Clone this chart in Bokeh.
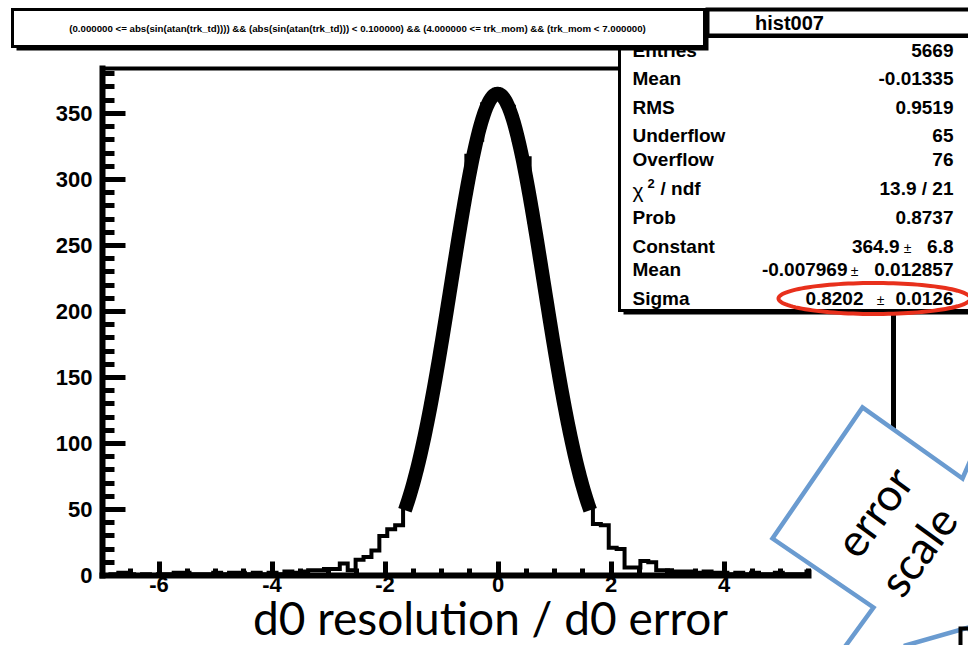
import numpy as np
from bokeh.plotting import figure
from bokeh.models import LinearAxis, FixedTicker, Label, PolyAnnotation, Range1d
from bokeh.embed import file_html
from bokeh.resources import INLINE

# ---------------- data ----------------
bin_low = -7.0
bin_high = 7.0
bin_count = 100
counts = [0, 1, 2, 1, 0, 1, 0, 1, 1, 2,
          2, 1, 1, 1, 2, 1, 2, 2, 1, 2,
          1, 2, 1, 3, 2, 3, 4, 4, 5, 5,
          9, 4, 12, 14, 19, 30, 35, 38, 54, 75,
          98, 130, 161, 201, 236, 276, 318, 330, 357, 365,
          362, 355, 330, 316, 268, 234, 193, 160, 124, 97,
          71, 52, 39, 38, 21, 20, 6, 6, 11, 10,
          4, 4, 3, 3, 3, 2, 3, 2, 2, 1,
          2, 1, 2, 1, 1, 2, 1, 1, 1, 3,
          1, 1, 0, 1, 1, 0, 1, 0, 1, 0]

fit_constant = 364.9
fit_mean = -0.007969
fit_sigma = 0.8202
fit_range = [-1.648, 1.632]

x_ticks = [-6, -4, -2, 0, 2, 4]
x_tick_labels = ["-6", "-4", "-2", "0", "2", "4"]
y_ticks = [0, 50, 100, 150, 200, 250, 300, 350]
y_tick_labels = ["0", "50", "100", "150", "200", "250", "300", "350"]

title_text = ("(0.000000 <= abs(sin(atan(trk_td)))) && (abs(sin(atan(trk_td))) < 0.100000) "
              "&& (4.000000 <= trk_mom) && (trk_mom < 7.000000)")
hist_name = "hist007"
stats_names = ["Entries", "Mean", "RMS", "Underflow", "Overflow", "χ2 / ndf", "Prob"]
stats_values = ["5669", "-0.01335", "0.9519", "65", "76", "13.9 / 21", "0.8737"]
fit_names = ["Constant", "Mean", "Sigma"]
fit_values = ["364.9", "-0.007969", "0.8202"]
fit_errors = ["6.8", "0.012857", "0.0126"]
x_title = "d0 resolution / d0 error"
note_lines = ["error", "scale"]

# ---------------- layout (canvas pixels) ----------------
W, H = 968, 645
FL, FR, FT, FB = 102, 893, 68, 575          # histogram frame edges
XMIN, XMAX, YMAX = bin_low, bin_high, 384.0


def X(px):
    return XMIN + (px - FL) * (XMAX - XMIN) / (FR - FL)


def Y(py):
    return (FB - py) * YMAX / (FB - FT)


p = figure(width=W, height=H, title=None,
           x_range=Range1d(X(0), X(W)), y_range=Range1d(Y(H), Y(0)),
           output_backend="svg", toolbar_location=None,
           min_border=0, min_border_left=0, min_border_right=0,
           min_border_top=0, min_border_bottom=0)
p.outline_line_color = None
p.grid.visible = False
p.background_fill_color = "white"
p.border_fill_color = "white"

# histogram
edges = np.linspace(bin_low, bin_high, bin_count + 1)
p.step(edges, counts + [counts[-1]], mode="after", line_color="black",
       line_width=4, line_join="miter")

# gaussian fit
fx = np.linspace(fit_range[0], fit_range[1], 200)
fy = fit_constant * np.exp(-0.5 * ((fx - fit_mean) / fit_sigma) ** 2)
p.line(fx, fy, line_color="black", line_width=14, line_cap="butt", line_join="round")

# axes (fixed on the histogram frame)
FONT = "Liberation Sans"
xa = p.xaxis[0]
xa.fixed_location = 0
xa.bounds = (XMIN, XMAX)
xa.ticker = FixedTicker(ticks=x_ticks, minor_ticks=list(np.arange(-6.5, 6.0, 0.5)))
xa.major_label_overrides = dict(zip(x_ticks, x_tick_labels))
xa.axis_line_width = 6
xa.axis_line_cap = "square"
xa.major_tick_in, xa.major_tick_out = 14, 0
xa.minor_tick_in, xa.minor_tick_out = 7, 0
xa.major_tick_line_width = 5
xa.minor_tick_line_width = 5
xa.major_label_text_font = FONT
xa.major_label_text_font_style = "bold"
xa.major_label_text_font_size = "22px"
xa.major_label_text_color = "black"
xa.major_label_standoff = 1

ya = p.yaxis[0]
ya.fixed_location = XMIN
ya.bounds = (0, YMAX)
ya.ticker = FixedTicker(ticks=y_ticks, minor_ticks=list(range(10, 384, 10)))
ya.major_label_overrides = dict(zip(y_ticks, y_tick_labels))
ya.axis_line_width = 6
ya.axis_line_cap = "square"
ya.major_tick_in, ya.major_tick_out = 23, 0
ya.minor_tick_in, ya.minor_tick_out = 12, 0
ya.major_tick_line_width = 5
ya.minor_tick_line_width = 5
ya.major_label_text_font = FONT
ya.major_label_text_font_style = "bold"
ya.major_label_text_font_size = "22px"
ya.major_label_text_color = "black"
ya.major_label_standoff = 10

for loc, w, fixed, bnd in (("above", 4, YMAX, (XMIN, XMAX)), ("right", 5, XMAX, (0, YMAX))):
    ax = LinearAxis(ticker=FixedTicker(ticks=[]), axis_line_width=w, axis_line_cap="square",
                    fixed_location=fixed, bounds=bnd,
                    major_tick_line_color=None, minor_tick_line_color=None,
                    major_label_text_color=None)
    p.add_layout(ax, loc)


# ---------------- annotations ----------------
def poly(pts, fill="white", line=None, lw=0):
    p.add_layout(PolyAnnotation(xs=[X(a) for a, b in pts], ys=[Y(b) for a, b in pts],
                                fill_color=fill, fill_alpha=1.0 if fill else 0.0,
                                line_color=line, line_alpha=1.0 if line else 0.0,
                                line_width=lw, line_join="miter"))


def rect(l, t, r, b, fill="white", line=None, lw=0):
    poly([(l, t), (r, t), (r, b), (l, b)], fill, line, lw)


def label(px, py, text, size, align="left", baseline="middle", bold=True, font=FONT,
          angle=0.0, color="black"):
    p.add_layout(Label(x=X(px), y=Y(py), text=text, text_font=font,
                       text_font_size=f"{size}px",
                       text_font_style="bold" if bold else "normal",
                       text_align=align, text_baseline=baseline, angle=angle,
                       text_color=color))


# stats box
rect(623, 39, 1000, 314, fill="black")
rect(619, 36, 996, 310, fill="white", line="black", lw=3)
row_y = [49.5, 78, 107, 135, 159, 188, 217]
for name, val, yy in zip(stats_names, stats_values, row_y):
    if name.startswith("χ"):
        label(632, yy + 2, "χ", 21, bold=False)
        label(647, yy - 5, name[1], 13)
        label(660, yy, name[2:].strip(), 19)
    else:
        label(632, yy, name, 19)
    label(953, yy, val, 19, align="right")

fit_y = [246, 269, 298]
fit_value_right = [899, 847, 863]
fit_pm_center = [907, 854, 880]
for name, val, err, yy, vr, pc in zip(fit_names, fit_values, fit_errors, fit_y,
                                      fit_value_right, fit_pm_center):
    label(632, yy, name, 19)
    label(vr, yy, val, 19, align="right")
    label(pc, yy + 1, "±", 14, align="center", bold=False)
    label(953, yy, err, 19, align="right")

# red ellipse around sigma
t = np.linspace(0, 2 * np.pi, 120)
poly(list(zip(874 + 96 * np.cos(t), 298 + 15.5 * np.sin(t))), fill=None, line="#e8301c", lw=4)

# title box
rect(16, 13, 708, 50, fill="black")
rect(12, 9, 704, 46, fill="white", line="black", lw=3)
label(357, 28, title_text, 9.7, align="center")

# histogram name header
rect(707, 9, 1000, 35, fill="white", line="black", lw=4)
label(789, 22, hist_name, 20, align="center")

# slide callout shapes
BLUE = "#6a9bd0"
poly([(811, 558), (830, 558), (840, 592), (811, 592)], fill="white")
poly([(962, 478), (862, 407), (772, 538), (873, 607), (833, 662), (1000, 662),
      (1000, 440), (975, 448)], fill="white", line=BLUE, lw=4.5)
poly([(905, 645), (968, 627), (1000, 700), (900, 700)], fill="white", line=BLUE, lw=4.5)
poly([(975, 628), (960, 628), (960, 660), (975, 660)], fill=None, line="black", lw=4)
label(873, 511, note_lines[0], 45, align="center", bold=False, font="Lato", angle=0.942)
label(917, 550, note_lines[1], 45, align="center", bold=False, font="Lato", angle=0.942)

# slide x title
label(490, 617, x_title, 46, align="center", bold=False, font="Lato")

open("out.html", "w").write(file_html(p, INLINE))
